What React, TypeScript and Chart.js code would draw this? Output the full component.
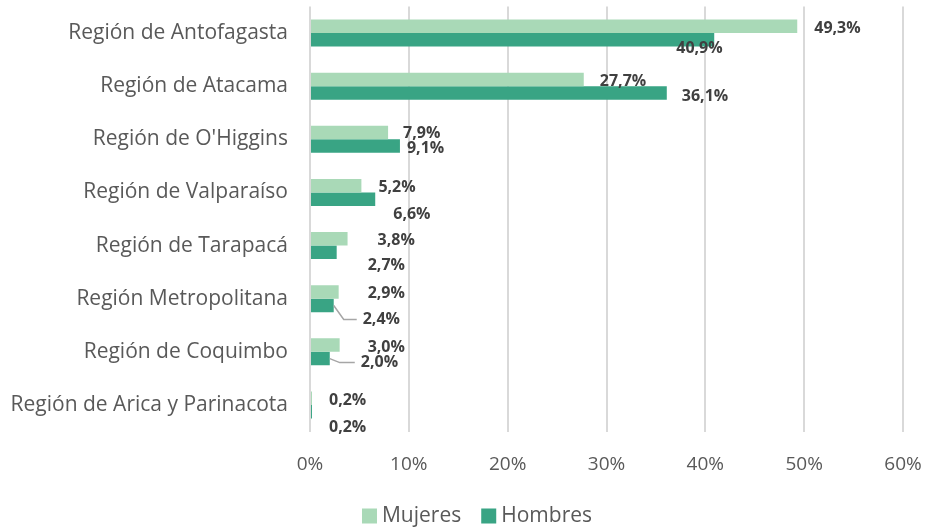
import React, { useEffect, useRef } from "react";
import { Chart, registerables } from "chart.js";

Chart.register(...registerables);

const categories = [
  "Región de Antofagasta",
  "Región de Atacama",
  "Región de O'Higgins",
  "Región de Valparaíso",
  "Región de Tarapacá",
  "Región Metropolitana",
  "Región de Coquimbo",
  "Región de Arica y Parinacota",
];
const mujeres = [49.3, 27.7, 7.9, 5.2, 3.8, 2.9, 3.0, 0.2];
const hombres = [40.9, 36.1, 9.1, 6.6, 2.7, 2.4, 2.0, 0.2];
const seriesNames = ["Mujeres", "Hombres"];
const xTicks = [0, 10, 20, 30, 40, 50, 60];

// label placement tweaks (pixels relative to bar end / bar centre)
const labelDxM = [17, 16, 15, 17, 30, 29, 28, 17];
const labelDyM = [2, 2, 1, 2, 2, 2, 2, 2];
const labelDxH = [-38, 15, 7, 18, 31, 29, 31, 17];
const labelDyH = [9, 3, 2, 15, 13, 14, 4, 16];
const leaderH = [false, false, false, false, false, true, true, false];

const COLOR_M = "#a9d9b7";
const COLOR_H = "#39a484";
const FONT = "'Open Sans', 'Noto Sans', sans-serif";

const fmt = (v: number) => v.toFixed(1).replace(".", ",") + "%";

const labelPlugin = {
  id: "valueLabels",
  afterDatasetsDraw(chart: any) {
    const ctx = chart.ctx;
    ctx.save();
    ctx.font = `bold 16px ${FONT}`;
    ctx.fillStyle = "#404040";
    ctx.textBaseline = "middle";
    ctx.textAlign = "left";
    const sets = [
      { meta: chart.getDatasetMeta(0), data: mujeres, dx: labelDxM, dy: labelDyM, leader: null as any },
      { meta: chart.getDatasetMeta(1), data: hombres, dx: labelDxH, dy: labelDyH, leader: leaderH },
    ];
    sets.forEach((s) => {
      s.meta.data.forEach((bar: any, i: number) => {
        const x = bar.x + s.dx[i];
        const y = bar.y + s.dy[i];
        if (s.leader && s.leader[i]) {
          ctx.save();
          ctx.strokeStyle = "#a6a6a6";
          ctx.lineWidth = 1.5;
          ctx.beginPath();
          ctx.moveTo(bar.x, bar.y);
          ctx.lineTo(bar.x + 10, y);
          ctx.lineTo(x - 6, y);
          ctx.stroke();
          ctx.restore();
        }
        ctx.fillText(fmt(s.data[i]), x, y);
      });
    });
    ctx.restore();
  },
};

const legendPlugin = {
  id: "customLegend",
  afterDraw(chart: any) {
    const ctx = chart.ctx;
    ctx.save();
    ctx.font = `21px ${FONT}`;
    ctx.textBaseline = "middle";
    ctx.textAlign = "left";
    const colors = [COLOR_M, COLOR_H];
    const box = 15;
    const gapBoxText = 5;
    const gapItems = 20;
    const widths = seriesNames.map((n) => box + gapBoxText + ctx.measureText(n).width);
    const total = widths.reduce((a, b) => a + b, 0) + gapItems * (seriesNames.length - 1);
    let x = 477 - total / 2;
    const cy = 516;
    seriesNames.forEach((n, i) => {
      ctx.fillStyle = colors[i];
      ctx.fillRect(x, cy - box / 2, box, box);
      ctx.fillStyle = "#595959";
      ctx.fillText(n, x + box + gapBoxText, cy);
      x += widths[i] + gapItems;
    });
    ctx.restore();
  },
};

export default function App() {
  const ref = useRef<HTMLCanvasElement | null>(null);
  useEffect(() => {
    document.body.style.margin = "0";
    const chart = new Chart(ref.current as HTMLCanvasElement, {
      type: "bar",
      data: {
        labels: categories,
        datasets: [
          {
            label: seriesNames[0],
            data: mujeres,
            backgroundColor: COLOR_M,
            barPercentage: 1,
            categoryPercentage: 0.51,
          },
          {
            label: seriesNames[1],
            data: hombres,
            backgroundColor: COLOR_H,
            barPercentage: 1,
            categoryPercentage: 0.51,
          },
        ],
      },
      options: {
        indexAxis: "y",
        animation: false,
        responsive: false,
        layout: { padding: { top: 6.5, right: 22, left: 0, bottom: 40 } },
        scales: {
          x: {
            min: 0,
            max: 60,
            afterBuildTicks: (scale: any) => {
              scale.ticks = xTicks.map((v) => ({ value: v }));
            },
            afterFit: (scale: any) => {
              scale.height = 57.5;
              scale.paddingLeft = 0;
              scale.paddingRight = 0;
            },
            grid: { color: "#d9d9d9", lineWidth: 2, drawTicks: false },
            border: { display: false },
            ticks: {
              padding: 22,
              color: "#595959",
              font: { family: FONT, size: 19 },
              callback: (v: any) => v + "%",
            },
          },
          y: {
            afterFit: (scale: any) => {
              scale.width = 310;
              scale.paddingTop = 0;
              scale.paddingBottom = 0;
            },
            grid: { display: false, drawTicks: false },
            border: { display: false },
            ticks: {
              padding: 22,
              color: "#595959",
              font: { family: FONT, size: 21 },
            },
          },
        },
        plugins: {
          legend: { display: false },
          tooltip: { enabled: false },
        },
      },
      plugins: [labelPlugin, legendPlugin],
    } as any);
    return () => chart.destroy();
  }, []);
  return <canvas ref={ref} width={925} height={529} style={{ display: "block" }} />;
}
